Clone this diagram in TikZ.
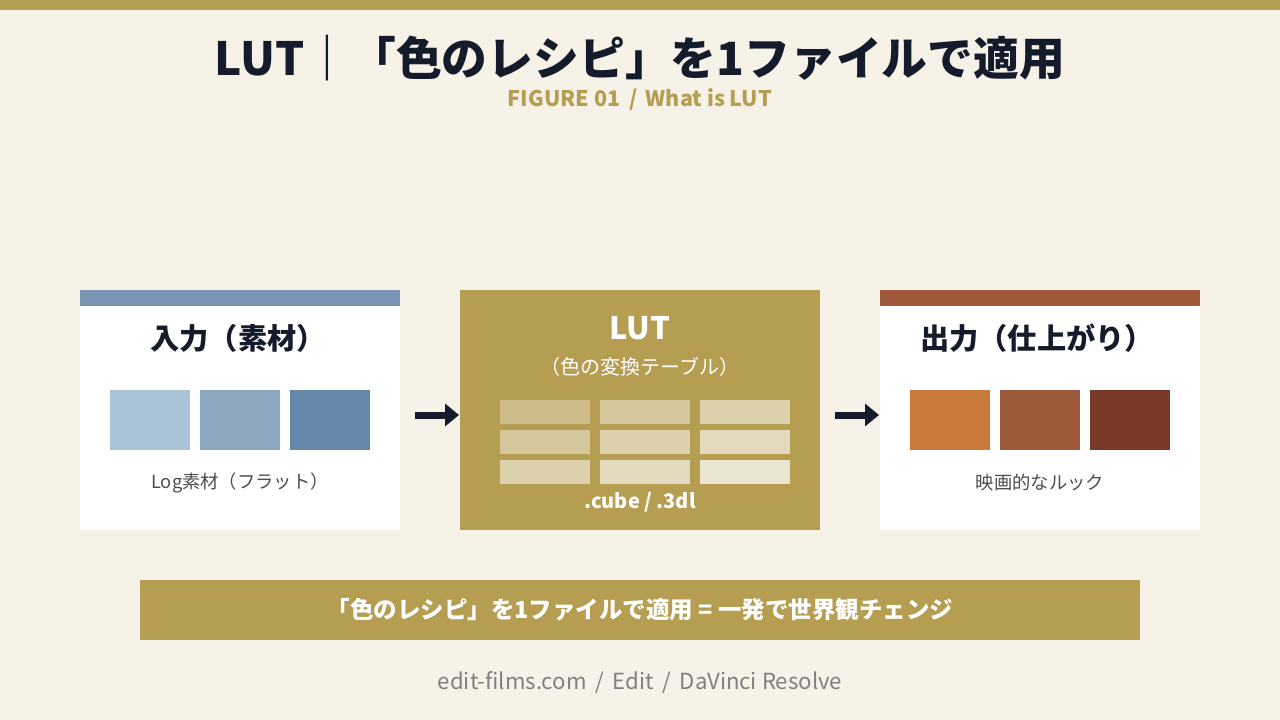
\documentclass[tikz,border=0pt]{standalone}
\usepackage{fontspec}
\setmainfont{Noto Sans CJK JP}
\usetikzlibrary{arrows.meta}
\definecolor{bg}{HTML}{F7F2E8}
\definecolor{gold}{HTML}{B59D52}
\definecolor{ink}{HTML}{141B2B}
\definecolor{blueb}{HTML}{7A93B3}
\definecolor{rust}{HTML}{A05A3A}
\begin{document}
\begin{tikzpicture}[x=1pt,y=-1pt,
  box/.style={fill=white,draw=none},
  sw/.style={minimum width=80pt,minimum height=60pt,inner sep=0,draw=none},
  cell/.style={minimum width=90pt,minimum height=24pt,inner sep=0,draw=none},
  arr/.style={line width=7pt,draw=ink,-{Triangle[length=14pt,width=22pt]}},
  lbl/.style={font=\fontsize{18.3}{21}\selectfont,text=black!70}]
\useasboundingbox (0,0) rectangle (1280,720);
\fill[bg] (0,0) rectangle (1280,720);
\fill[gold] (0,0) rectangle (1280,10);
\node[font=\bfseries\fontsize{45.8}{50}\selectfont,text=ink] (title) at (640,58) {LUT｜「色のレシピ」を1ファイルで適用};
\node[font=\bfseries\fontsize{21.5}{24}\selectfont,text=gold] (sub) at (640,100) {FIGURE 01 \,/\, What is LUT};
% left
\fill[box] (80,290) rectangle (400,530);
\fill[blueb] (80,290) rectangle (400,306);
\node[font=\bfseries\fontsize{29.2}{32}\selectfont,text=ink] (lt) at (238,338) {入力（素材）};
\node[sw,fill={rgb,255:red,168;green,195;blue,216}] (l1) at (150,420) {};
\node[sw,fill={rgb,255:red,141;green,167;blue,192}] (l2) at (240,420) {};
\node[sw,fill={rgb,255:red,102;green,136;blue,170}] (l3) at (330,420) {};
\node[lbl] (ll) at (240,483) {Log素材（フラット）};
% center
\fill[gold] (460,290) rectangle (820,530);
\node[font=\bfseries\fontsize{31}{34}\selectfont,text=white] (ct) at (640,328) {LUT};
\node[font=\fontsize{20}{22}\selectfont,text=white] (cs) at (640,367) {（色の変換テーブル）};
\foreach \i/\x in {0/545,1/645,2/745}{
 \foreach \j/\y in {0/412,1/442,2/472}{
  \pgfmathsetmacro{\t}{20+(\i+\j)*12}
  \node[cell,fill=white!\t!gold!85!white] (c\i\j) at (\x,\y) {};
 }}
\node[font=\bfseries\fontsize{20}{22}\selectfont,text=white] (cf) at (640,502) {.cube / .3dl};
% right
\fill[box] (880,290) rectangle (1200,530);
\fill[rust] (880,290) rectangle (1200,306);
\node[font=\bfseries\fontsize{29.2}{32}\selectfont,text=ink] (rt) at (1037,338) {出力（仕上がり）};
\node[sw,fill={rgb,255:red,200;green,122;blue,58}] (r1) at (950,420) {};
\node[sw,fill={rgb,255:red,156;green,90;blue,58}] (r2) at (1040,420) {};
\node[sw,fill={rgb,255:red,122;green,58;blue,42}] (r3) at (1130,420) {};
\node[lbl] (rl) at (1040,483) {映画的なルック};
% arrows
\coordinate (a1s) at (415,415); \coordinate (a1e) at (459,415);
\coordinate (a2s) at (835,415); \coordinate (a2e) at (879,415);
\draw[arr] (a1s) -- (a1e);
\draw[arr] (a2s) -- (a2e);
% banner
\fill[gold] (140,580) rectangle (1140,640);
\node[font=\bfseries\fontsize{23.5}{26}\selectfont,text=white] (bn) at (640,610) {「色のレシピ」を1ファイルで適用 = 一発で世界観チェンジ};
\node[font=\fontsize{22.2}{25}\selectfont,text=black!50] (ft) at (640,682) {edit-films.com \,/\, Edit \,/\, DaVinci Resolve};
\end{tikzpicture}
\end{document}
